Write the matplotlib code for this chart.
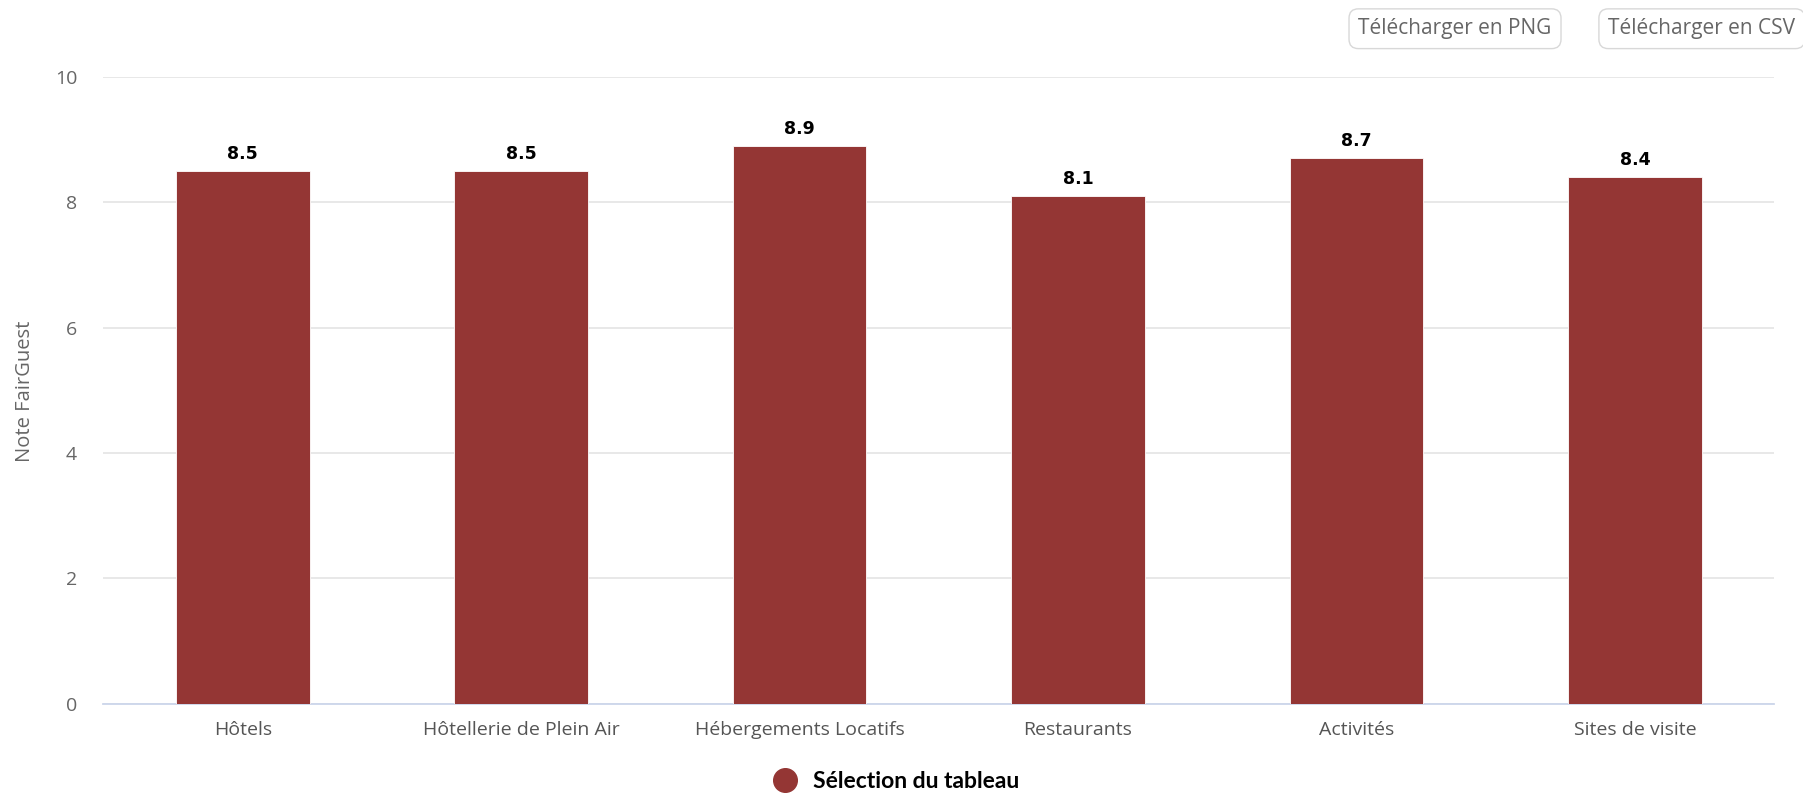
import matplotlib.pyplot as plt
from matplotlib.lines import Line2D

categories = ['Hôtels', 'Hôtellerie de Plein Air', 'Hébergements Locatifs',
              'Restaurants', 'Activités', 'Sites de visite']
notes = [8.5, 8.5, 8.9, 8.1, 8.7, 8.4]
yticks = [0, 2, 4, 6, 8, 10]
series_name = 'Sélection du tableau'

bar_color = '#943634'
font = ['Open Sans', 'DejaVu Sans']

plt.rcParams['font.family'] = font

fig = plt.figure(figsize=(18.03, 7.98), dpi=100)
ax = fig.add_axes([0.0574, 0.118, 0.9266, 0.7855])

x = range(len(categories))
bars = ax.bar(x, notes, width=0.48, color=bar_color, edgecolor='white', linewidth=0.6,
              zorder=3)
ax.bar_label(bars, labels=[f'{v:.1f}' for v in notes], padding=6, fontsize=12.5,
             fontweight='bold', color='black', family=['DejaVu Sans'])

ax.set_xlim(-0.5, len(categories) - 0.5)
ax.set_ylim(0, 10)
ax.set_yticks(yticks)
ax.set_xticks(list(x))
ax.set_xticklabels(categories)
ax.tick_params(axis='x', length=0, pad=12, labelsize=14, labelcolor='#555555')
ax.tick_params(axis='y', length=0, pad=19, labelsize=14, labelcolor='#666666')
ax.grid(axis='y', color='#e6e6e6', linewidth=1.3, zorder=0)

for side in ['top', 'right', 'left']:
    ax.spines[side].set_visible(False)
ax.spines['bottom'].set_color('#ccd6eb')
ax.spines['bottom'].set_linewidth(1.3)

fig.text(0.014, 0.51, 'Note FairGuest', rotation=90, ha='center', va='center',
         fontsize=14.5, color='#666666')

handle = Line2D([], [], marker='o', linestyle='none', markersize=17,
                markerfacecolor=bar_color, markeredgecolor=bar_color)
fig.legend([handle], [series_name], loc='lower center', bbox_to_anchor=(0.494, -0.018),
           frameon=False, handletextpad=0.25,
           prop={'family': ['Lato', 'DejaVu Sans'], 'weight': 'bold', 'size': 16.5})

btn = dict(boxstyle='round,pad=0.45,rounding_size=0.45', facecolor='white',
           edgecolor='#d8d8d8', linewidth=1)
fig.text(0.807, 0.964, 'Télécharger en PNG', ha='center', va='center', fontsize=15,
         color='#666666', bbox=btn)
fig.text(0.892, 0.964, 'Télécharger en CSV', ha='left', va='center', fontsize=15,
         color='#666666', bbox=btn)

fig.savefig('out.png', dpi=100, facecolor='white')
